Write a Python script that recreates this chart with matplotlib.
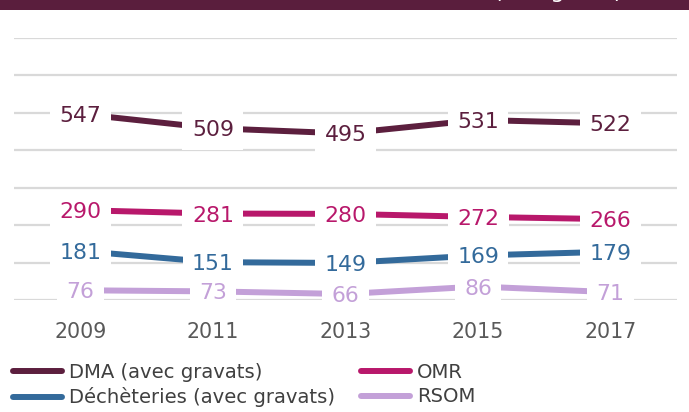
import matplotlib.pyplot as plt
from matplotlib.lines import Line2D
from matplotlib.patches import Rectangle

years = ["2009", "2011", "2013", "2015", "2017"]
dma = [547, 509, 495, 531, 522]
omr = [290, 281, 280, 272, 266]
decheteries = [181, 151, 149, 169, 179]
rsom = [76, 73, 66, 86, 71]

series = [
    ("DMA (avec gravats)", dma, "#5c1f3e"),
    ("Déchèteries (avec gravats)", decheteries, "#336a9b"),
    ("OMR", omr, "#b8186b"),
    ("RSOM", rsom, "#c3a0d8"),
]

W, H = 689, 412
fig = plt.figure(figsize=(W / 100, H / 100), dpi=100)

# maroon band along the top edge, title mostly out of frame
fig.patches.append(Rectangle((0, 1 - 10 / H), 1, 10 / H, transform=fig.transFigure,
                             facecolor="#5a1e3d", edgecolor="none"))
fig.text(623 / W, 1 + 2.5 / H, "(en kg/hab)", color="white", fontsize=16,
         ha="right", va="baseline")

ax = fig.add_axes([14 / W, (H - 300) / H, 663 / W, 262 / H])
x = range(len(years))
ax.set_xlim(-0.5, 4.5)
ax.set_ylim(50, 750)
ax.set_yticks(range(50, 751, 100))
ax.yaxis.grid(True, color="#d9d9d9", linewidth=1.6, zorder=0)
ax.set_axisbelow(True)
ax.tick_params(axis="y", length=0, labelleft=False)
ax.set_xticks(list(x), years)
ax.tick_params(axis="x", length=0, pad=15.5, labelsize=14.8, labelcolor="#595959")
for s in ax.spines.values():
    s.set_visible(False)

for name, vals, col in series:
    ax.plot(x, vals, color=col, linewidth=4.3, solid_capstyle="butt", zorder=3)
    for i, v in zip(x, vals):
        ax.text(i, v, str(v), ha="center", va="center_baseline", fontsize=15.8, color=col,
                bbox=dict(boxstyle="square,pad=0.43", facecolor="white", edgecolor="none"),
                zorder=4)

handles = [Line2D([], [], color=col, linewidth=4.3, solid_capstyle="round")
           for _, _, col in series]
labels = [name for name, _, _ in series]
fig.legend(handles, labels, ncol=2, loc="upper left",
           bbox_to_anchor=(13 / W, 1 - 362.5 / H), frameon=False,
           fontsize=14.1, labelcolor="#404040", handlelength=2.5, handletextpad=0.36,
           columnspacing=1.33, labelspacing=0.3, borderpad=0, borderaxespad=0)

fig.savefig("out.png", dpi=100)
